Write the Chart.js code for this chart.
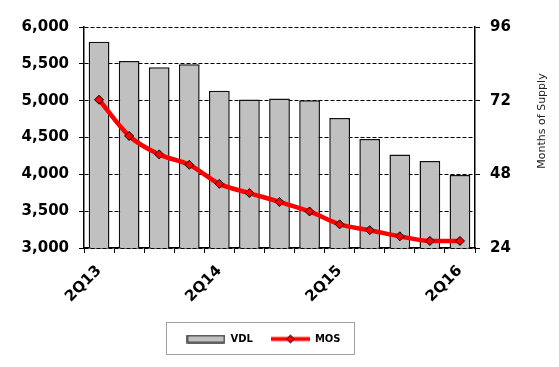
<!DOCTYPE html>
<html>
<head>
<meta charset="utf-8">
<script src="https://cdn.jsdelivr.net/npm/chart.js@4/dist/chart.umd.min.js"></script>
<style>
  html, body { margin: 0; padding: 0; background: #fff; }
  canvas { display: block; }
</style>
</head>
<body>
<canvas id="supplyChart" width="559" height="367"></canvas>
<script>
'use strict';

const quarters = ['2Q13', '3Q13', '4Q13', '1Q14', '2Q14', '3Q14', '4Q14', '1Q15', '2Q15', '3Q15', '4Q15', '1Q16', '2Q16'];
const vdl = [5800, 5540, 5455, 5495, 5135, 5015, 5030, 5005, 4765, 4480, 4270, 4180, 3990];
const mos = [72.3, 60.5, 54.5, 51.1, 44.9, 41.9, 39.0, 35.9, 31.7, 29.8, 27.8, 26.3, 26.3];
const vdlTicks = [3000, 6000, 500];
const mosTicks = [24, 96, 24];

const FONT = 'DejaVu Sans';

function makeIcon(w, h, draw) {
  const c = document.createElement('canvas');
  c.width = w;
  c.height = h;
  draw(c.getContext('2d'));
  return c;
}

const vdlIcon = makeIcon(39, 9, ctx => {
  ctx.fillStyle = '#c0c0c0';
  ctx.fillRect(1, 1, 37, 7);
  ctx.strokeStyle = '#333';
  ctx.lineWidth = 1.5;
  ctx.strokeRect(1, 1, 37, 7);
});

const mosIcon = makeIcon(39, 11, ctx => {
  ctx.strokeStyle = '#ff0000';
  ctx.lineWidth = 4;
  ctx.beginPath();
  ctx.moveTo(0, 5.5);
  ctx.lineTo(39, 5.5);
  ctx.stroke();
  ctx.beginPath();
  ctx.moveTo(15.5, 5.5);
  ctx.lineTo(19.5, 1.5);
  ctx.lineTo(23.5, 5.5);
  ctx.lineTo(19.5, 9.5);
  ctx.closePath();
  ctx.fillStyle = '#ff0000';
  ctx.fill();
  ctx.strokeStyle = '#000';
  ctx.lineWidth = 1;
  ctx.stroke();
});

// legend frame + rotated right-hand title
const extras = {
  id: 'extras',
  afterLayout(chart) {
    chart.legend.left -= 16;
    chart.legend.right -= 16;
  },
  afterDraw(chart) {
    const ctx = chart.ctx;
    const hb = chart.legend.legendHitBoxes;
    if (hb && hb.length) {
      const last = hb[hb.length - 1];
      const x1 = hb[0].left - 20;
      const x2 = last.left + last.width + 14;
      const y1 = hb[0].top - 12;
      const y2 = hb[0].top + hb[0].height + 10;
      ctx.save();
      ctx.strokeStyle = '#a0a0a0';
      ctx.lineWidth = 1;
      ctx.strokeRect(Math.round(x1) + 0.5, Math.round(y1) + 0.5, Math.round(x2 - x1), Math.round(y2 - y1));
      ctx.restore();
    }
    const s = chart.scales.y2;
    ctx.save();
    ctx.translate(s.right - 17, chart.chartArea.top + 94);
    ctx.rotate(-Math.PI / 2);
    ctx.font = '11px ' + FONT;
    ctx.fillStyle = '#222';
    ctx.textAlign = 'center';
    ctx.textBaseline = 'middle';
    ctx.fillText('Months of Supply', 0, 0);
    ctx.restore();
  }
};

function renderChart() {
  const ctx = document.getElementById('supplyChart');

  new Chart(ctx, {
    type: 'bar',
    data: {
      labels: quarters,
      datasets: [
        {
          type: 'line',
          label: 'MOS',
          data: mos,
          yAxisID: 'y2',
          order: 1,
          borderColor: '#ff0000',
          borderWidth: 4.5,
          cubicInterpolationMode: 'monotone',
          pointStyle: 'rectRot',
          pointRadius: 4.5,
          pointBackgroundColor: '#ff0000',
          pointBorderColor: '#000',
          pointBorderWidth: 1
        },
        {
          label: 'VDL',
          data: vdl,
          yAxisID: 'y',
          order: 2,
          backgroundColor: '#c0c0c0',
          borderColor: '#111',
          borderWidth: 1.5,
          categoryPercentage: 1,
          barPercentage: 0.69
        }
      ]
    },
    options: {
      responsive: false,
      animation: false,
      devicePixelRatio: 1,
      layout: { padding: { top: 27, left: 0, right: 0, bottom: 13 } },
      plugins: {
        tooltip: { enabled: false },
        legend: {
          position: 'bottom',
          labels: {
            usePointStyle: true,
            pointStyleWidth: 39,
            padding: 18,
            color: '#000',
            font: { family: FONT, size: 10, weight: 'bold' },
            generateLabels: () => [
              { text: 'VDL', pointStyle: vdlIcon, fillStyle: '#c0c0c0', strokeStyle: '#333', lineWidth: 0, hidden: false, datasetIndex: 1 },
              { text: 'MOS', pointStyle: mosIcon, fillStyle: '#ff0000', strokeStyle: '#ff0000', lineWidth: 0, hidden: false, datasetIndex: 0 }
            ]
          }
        }
      },
      scales: {
        x: {
          afterFit: s => { s.height = 68; },
          grid: { drawOnChartArea: false, drawTicks: true, tickLength: 5, color: '#000' },
          border: { color: '#000', width: 1.5 },
          ticks: {
            autoSkip: false,
            maxRotation: 45,
            minRotation: 45,
            padding: 9,
            color: '#000',
            font: { family: FONT, size: 15, weight: 'bold' },
            callback: (v, i) => quarters[i].startsWith('2Q') ? quarters[i] : ''
          }
        },
        y: {
          position: 'left',
          min: vdlTicks[0],
          max: vdlTicks[1],
          afterFit: s => { s.width = 84; },
          grid: { color: '#000', lineWidth: 1, tickLength: 5, tickColor: '#000' },
          border: { color: '#000', width: 1.5, dash: [4, 2] },
          ticks: {
            stepSize: vdlTicks[2],
            padding: 10,
            color: '#000',
            font: { family: FONT, size: 15, weight: 'bold' },
            callback: v => v.toLocaleString('en-US')
          }
        },
        y2: {
          position: 'right',
          min: mosTicks[0],
          max: mosTicks[1],
          afterFit: s => { s.width = 84; },
          grid: { drawOnChartArea: false, tickLength: 5, color: '#000' },
          border: { color: '#000', width: 1.5 },
          ticks: {
            stepSize: mosTicks[2],
            padding: 10,
            color: '#000',
            font: { family: FONT, size: 15, weight: 'bold' }
          }
        }
      }
    },
    plugins: [extras]
  });
}

document.addEventListener('DOMContentLoaded', renderChart);
</script>
</body>
</html>
